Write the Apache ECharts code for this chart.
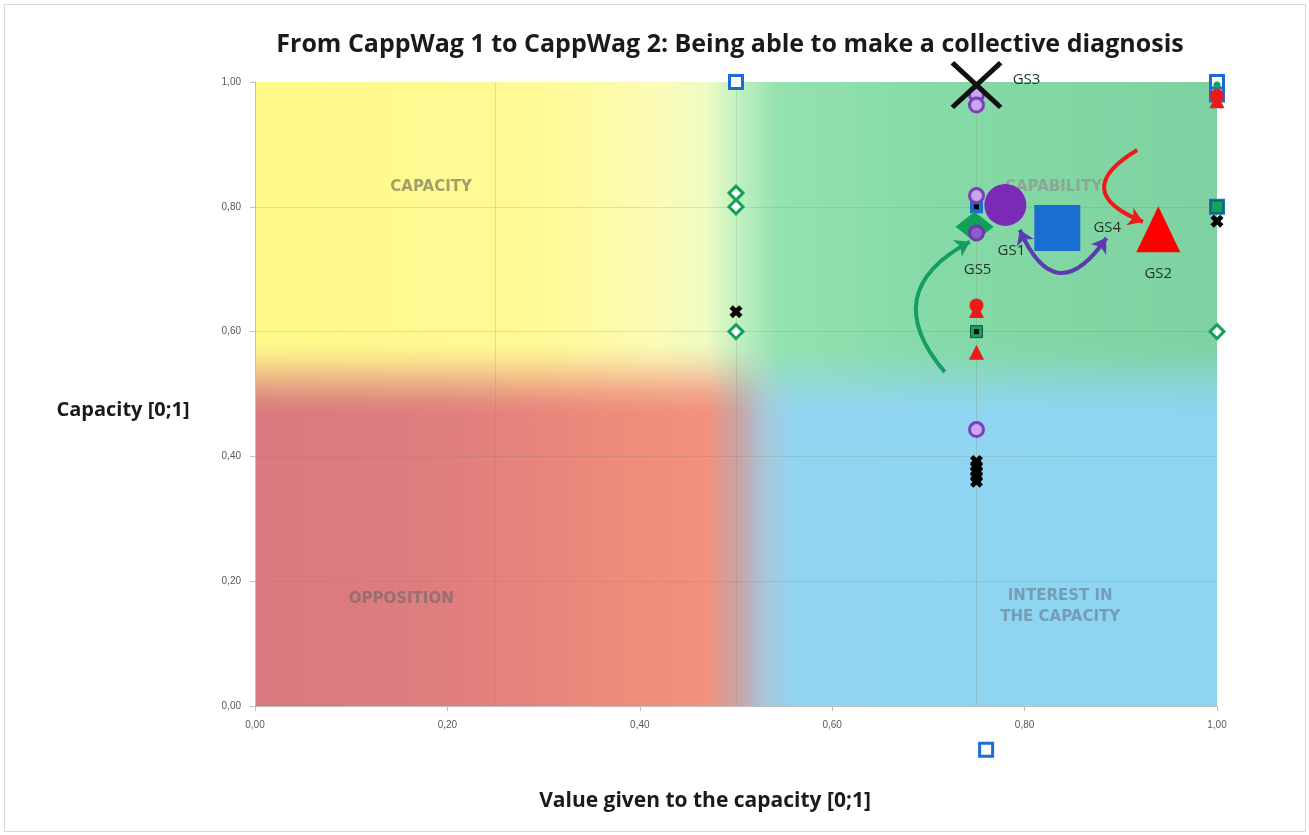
<!DOCTYPE html>
<html><head><meta charset="utf-8">
<script src="https://cdn.jsdelivr.net/npm/echarts@6/dist/echarts.min.js"></script>
<style>html,body{margin:0;padding:0;background:#fff}#c{width:1309px;height:835px}
#frame{position:absolute;left:4px;top:4px;width:1300px;height:826px;border:1px solid #d9d9d9;pointer-events:none}</style>
</head><body><div id="c"></div><div id="frame"></div>
<script>
// ---------- texts ----------
const chartTitle = 'From CappWag 1 to CappWag 2: Being able to make a collective diagnosis';
const xAxisName = 'Value given to the capacity [0;1]';
const yAxisName = 'Capacity [0;1]';

// ---------- axes ----------
const axisMin = 0, axisMax = 1, tickStep = 0.2;
const gridLinesX = [0.25, 0.5, 0.75];
const gridLinesY = [0.2, 0.4, 0.6, 0.8];

// ---------- small markers (x, y) ----------
const blueSquares   = [[0.5, 1.0], [1.0, 1.0], [1.0, 0.98], [1.0, 0.8], [0.76, -0.07]];
const blueFilled    = [[0.75, 0.8]];
const greenDiamonds = [[0.5, 0.822], [0.5, 0.8], [0.5, 0.6], [1.0, 0.6]];
const greenSquares  = [[0.75, 0.6], [1.0, 0.8]];
const greenDots     = [[1.0, 0.995]];
const purpleCircles = [[0.75, 0.98], [0.75, 0.963], [0.75, 0.818], [0.75, 0.443]];
const purpleTop     = [[0.75, 0.758]];
const redCircles    = [[0.75, 0.642], [1.0, 0.978]];
const redTriangles  = [[0.75, 0.634], [0.75, 0.567], [1.0, 0.97]];
const blackCrosses  = [[0.5, 0.632], [0.75, 0.392], [0.75, 0.384], [0.75, 0.376], [0.75, 0.368], [0.75, 0.36], [1.0, 0.777]];
const blackDots     = [[0.75, 0.8], [0.75, 0.6]];

// ---------- group summary markers ----------
const gsNames = ['GS1', 'GS2', 'GS3', 'GS4', 'GS5'];
const gsX     = [0.78, 0.939, 0.75, 0.834, 0.748];
const gsY     = [0.803, 0.764, 0.995, 0.766, 0.768];

// ---------- zone labels ----------
const zoneNames = ['CAPACITY', 'CAPABILITY', 'OPPOSITION', 'INTEREST IN\nTHE CAPACITY'];
const zoneX     = [0.183, 0.83, 0.152, 0.837];
const zoneY     = [0.832, 0.832, 0.171, 0.16];

// ---------- arrows ----------
const arrowFrom = [[0.717, 0.535], [0.795, 0.763], [0.917, 0.891]];
const arrowTo   = [[0.743, 0.744], [0.885, 0.750], [0.923, 0.776]];

// =====================================================
const X_THIN  = 'path://M0,7L7,0L50,43L93,0L100,7L57,50L100,93L93,100L50,57L7,100L0,93L43,50Z';
const X_THICK = 'path://M0,26L26,0L50,24L74,0L100,26L76,50L100,74L74,100L50,76L26,100L0,74L24,50Z';

const fmt = v => v.toFixed(2).replace('.', ',');

const topGrad = {type:'linear', x:0, y:0, x2:1, y2:0, colorStops:[
  {offset:0, color:'#FFF98A'}, {offset:0.3, color:'#FFFA97'}, {offset:0.42, color:'#FBFBB6'},
  {offset:0.47, color:'#EEFBC4'}, {offset:0.505, color:'#BDEFC0'}, {offset:0.545, color:'#93E2B0'},
  {offset:0.7, color:'#86DAA7'}, {offset:1, color:'#7ED2A1'}]};
const botGrad = {type:'linear', x:0, y:0, x2:1, y2:0, colorStops:[
  {offset:0, color:'#D9787F'}, {offset:0.2, color:'#DF7E7E'}, {offset:0.38, color:'#EE8B7B'},
  {offset:0.47, color:'#F2917D'}, {offset:0.505, color:'#C6A6A8'}, {offset:0.53, color:'#A7C8DB'},
  {offset:0.56, color:'#92D5F0'}, {offset:1, color:'#8CD5F3'}]};

// vertical blend band between the lower and the upper colours, in steps of one screen row
const plotRows = 624;
const bandLoRow = 287, bandRows = 82;
const bgAreas = [
  [{xAxis:0, yAxis:0, itemStyle:{color:topGrad}}, {xAxis:1, yAxis:1}],
  [{xAxis:0, yAxis:0, itemStyle:{color:botGrad}}, {xAxis:1, yAxis:bandLoRow / plotRows}]
];
for (let i = 0; i < bandRows; i++) {
  const tm = (i + 0.5) / bandRows;
  const a = 1 - (tm * tm * (3 - 2 * tm));
  const y0 = (bandLoRow + i) / plotRows, y1 = (bandLoRow + i + 1) / plotRows;
  bgAreas.push([{xAxis:0, yAxis:y0, itemStyle:{color:botGrad, opacity:a}}, {xAxis:1, yAxis:y1}]);
}

const gridLineData = gridLinesX.map(v => ({xAxis:v})).concat(gridLinesY.map(v => ({yAxis:v})));

const small = (name, data, symbol, size, itemStyle, z) => ({
  name, type:'scatter', data, symbol, symbolSize:size, itemStyle:Object.assign({opacity:1}, itemStyle),
  clip:false, z: z || 4, silent:true
});

const gsStyle = [
  {symbol:'circle',   size:42,       color:'#7B2AB8', off:[6, 46]},
  {symbol:'triangle', size:[44, 46], color:'#FF0000', off:[0, 44]},
  {symbol:X_THIN,     size:[52, 48], color:'#111111', off:[50, -5]},
  {symbol:'rect',     size:46,       color:'#1A6ED2', off:[50, 0]},
  {symbol:'diamond',  size:[38, 30], color:'#10A058', off:[3, 43]}
];
const gsData = gsNames.map((n, i) => ({
  name:n, value:[gsX[i], gsY[i]], symbol:gsStyle[i].symbol, symbolSize:gsStyle[i].size,
  itemStyle:{color:gsStyle[i].color, opacity:1},
  label:{show:true, formatter:n, position:'inside', offset:gsStyle[i].off,
         color:'#1f3327', fontSize:15, fontFamily:'Open Sans'}
}));

const zoneStyle = ['#8A8A5E', '#8C9C90', '#8A6A6E', '#6E8EA6'];
const zoneData = zoneNames.map((n, i) => ({
  name:n, value:[zoneX[i], zoneY[i]],
  label:{show:true, formatter:n, position:'inside', color:zoneStyle[i],
         fontSize:15, fontWeight:'bold', fontFamily:'DejaVu Sans', lineHeight:21, align:'center'}
}));

const arrowStyle = [
  {color:'#169E5E', curv:0.62, sym:['none','arrow']},
  {color:'#5A3CB0', curv:-0.9, sym:['arrow','arrow']},
  {color:'#F01818', curv:-1.0, sym:['none','arrow']}
];
const arrowData = arrowFrom.map((p, i) => ({
  coords:[p, arrowTo[i]],
  lineStyle:{color:arrowStyle[i].color, curveness:arrowStyle[i].curv, width:4, opacity:1},
  symbol: arrowStyle[i].sym
}));

const chart = echarts.init(document.getElementById('c'), null, {renderer:'canvas'});
chart.setOption({
  animation:false,
  backgroundColor:'#ffffff',
  grid:{left:255, right:92, top:82, bottom:129},
  xAxis:{type:'value', min:axisMin, max:axisMax, interval:tickStep,
    axisLine:{show:true, lineStyle:{color:'#BFBFBF'}},
    axisTick:{show:true, length:5, lineStyle:{color:'#BFBFBF'}},
    axisLabel:{formatter:fmt, color:'#595959', fontSize:10, fontFamily:'Liberation Sans', margin:14},
    splitLine:{show:false}},
  yAxis:{type:'value', min:axisMin, max:axisMax, interval:tickStep,
    axisLine:{show:true, lineStyle:{color:'#BFBFBF'}},
    axisTick:{show:true, length:5, lineStyle:{color:'#BFBFBF'}},
    axisLabel:{formatter:fmt, color:'#595959', fontSize:10, fontFamily:'Liberation Sans', margin:14},
    splitLine:{show:false}},
  graphic:[
    {type:'text', x:730, y:45, style:{text:chartTitle, align:'center', verticalAlign:'middle',
      font:'bold 25px "Open Sans"', fill:'#1a1a1a'}},
    {type:'text', x:705, y:801, style:{text:xAxisName, align:'center', verticalAlign:'middle',
      font:'bold 21px "Open Sans"', fill:'#1a1a1a'}},
    {type:'text', x:123, y:410, style:{text:yAxisName, align:'center', verticalAlign:'middle',
      font:'bold 20px "Open Sans"', fill:'#1a1a1a'}}
  ],
  series:[
    {type:'scatter', data:[], silent:true, z:0,
      markArea:{silent:true, z:0, data:bgAreas}},
    {type:'scatter', data:[], silent:true, z:1,
      markLine:{silent:true, z:1, symbol:['none','none'], label:{show:false},
        lineStyle:{color:'rgba(130,130,100,0.22)', type:'solid', width:1}, data:gridLineData}},
    {type:'scatter', data:zoneData, symbolSize:0, silent:true, z:2},
    small('blueSq', blueSquares, 'rect', 13, {color:'#ffffff', borderColor:'#1A6ED2', borderWidth:3}),
    small('blueF', blueFilled, 'rect', 13, {color:'#1A6ED2'}),
    small('greenD', greenDiamonds, 'diamond', 14, {color:'#ffffff', borderColor:'#16A05C', borderWidth:3}),
    small('greenSq', greenSquares, 'rect', 12, {color:'#14A060', borderColor:'#0e5a36', borderWidth:1}),
    small('greenDot', greenDots, 'circle', 7, {color:'#12A05A'}, 5),
    small('purpleC', purpleCircles, 'circle', 14, {color:'#C8A6F0', borderColor:'#7B3FB8', borderWidth:3}),
    small('redC', redCircles, 'circle', 14, {color:'#F01818'}),
    small('redT', redTriangles, 'triangle', 15, {color:'#F01818'}),
    small('blackX', blackCrosses, X_THICK, 13, {color:'#000000'}),
    small('blackDot', blackDots, 'rect', 5, {color:'#000000'}, 5),
    {type:'lines', coordinateSystem:'cartesian2d', data:arrowData, symbolSize:14, silent:true, z:6,
      polyline:false},
    {type:'scatter', data:gsData, clip:false, silent:true, z:7},
    small('purpleTop', purpleTop, 'circle', 14, {color:'#8a60c8', borderColor:'#6E38B0', borderWidth:3}, 8)
  ]
});
</script></body></html>
